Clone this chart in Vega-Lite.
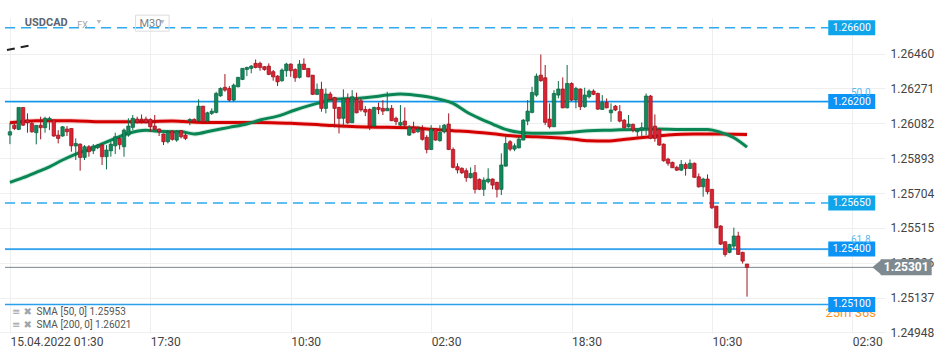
{
  "$schema": "https://vega.github.io/schema/vega-lite/v6.json",
  "width": 885,
  "height": 315,
  "autosize": {"type": "none"},
  "padding": {"left": 0, "top": 18, "right": 65, "bottom": 25},
  "background": "white",
  "config": {"view": {"stroke": null}, "font": "Roboto", "axis": {"labelOverlap": false, "labelFlush": false, "labelBound": false}},
  "datasets": {
    "candles": [
      {"t":0,"o":1.26018,"h":1.26085,"l":1.25969,"c":1.26036},
      {"t":1,"o":1.26072,"h":1.26081,"l":1.26045,"c":1.26054},
      {"t":2,"o":1.26049,"h":1.26168,"l":1.26045,"c":1.26168},
      {"t":3,"o":1.26168,"h":1.26168,"l":1.26067,"c":1.26072},
      {"t":4,"o":1.26100,"h":1.26136,"l":1.26031,"c":1.26085},
      {"t":5,"o":1.26081,"h":1.26091,"l":1.26031,"c":1.26036},
      {"t":6,"o":1.26031,"h":1.26072,"l":1.25968,"c":1.26071},
      {"t":7,"o":1.26072,"h":1.26118,"l":1.25995,"c":1.26058},
      {"t":8,"o":1.26058,"h":1.26118,"l":1.26031,"c":1.26109},
      {"t":9,"o":1.26100,"h":1.26118,"l":1.26045,"c":1.26109},
      {"t":10,"o":1.26100,"h":1.26100,"l":1.26009,"c":1.26013},
      {"t":11,"o":1.26018,"h":1.26045,"l":1.25973,"c":1.26000},
      {"t":12,"o":1.26013,"h":1.26067,"l":1.26009,"c":1.26063},
      {"t":13,"o":1.26051,"h":1.26067,"l":1.26013,"c":1.26036},
      {"t":14,"o":1.26054,"h":1.26054,"l":1.25928,"c":1.25960},
      {"t":15,"o":1.25959,"h":1.26000,"l":1.25883,"c":1.25973},
      {"t":16,"o":1.25969,"h":1.25973,"l":1.25825,"c":1.25897},
      {"t":17,"o":1.25897,"h":1.25964,"l":1.25883,"c":1.25955},
      {"t":18,"o":1.25955,"h":1.25964,"l":1.25901,"c":1.25928},
      {"t":19,"o":1.25933,"h":1.25969,"l":1.25915,"c":1.25959},
      {"t":20,"o":1.25950,"h":1.25969,"l":1.25942,"c":1.25964},
      {"t":21,"o":1.25964,"h":1.25969,"l":1.25856,"c":1.25901},
      {"t":22,"o":1.25901,"h":1.25964,"l":1.25832,"c":1.25937},
      {"t":23,"o":1.25933,"h":1.25982,"l":1.25901,"c":1.25969},
      {"t":24,"o":1.25960,"h":1.26031,"l":1.25915,"c":1.26009},
      {"t":25,"o":1.26000,"h":1.26009,"l":1.25940,"c":1.25966},
      {"t":26,"o":1.25955,"h":1.26054,"l":1.25901,"c":1.26045},
      {"t":27,"o":1.26018,"h":1.26109,"l":1.26009,"c":1.26067},
      {"t":28,"o":1.26060,"h":1.26127,"l":1.26045,"c":1.26109},
      {"t":29,"o":1.26105,"h":1.26118,"l":1.26081,"c":1.26087},
      {"t":30,"o":1.26105,"h":1.26130,"l":1.26081,"c":1.26096},
      {"t":31,"o":1.26105,"h":1.26118,"l":1.26081,"c":1.26087},
      {"t":32,"o":1.26103,"h":1.26109,"l":1.26036,"c":1.26063},
      {"t":33,"o":1.26067,"h":1.26127,"l":1.26045,"c":1.26049},
      {"t":34,"o":1.26051,"h":1.26054,"l":1.26013,"c":1.26036},
      {"t":35,"o":1.26024,"h":1.26027,"l":1.25964,"c":1.25982},
      {"t":36,"o":1.25982,"h":1.26045,"l":1.25973,"c":1.26036},
      {"t":37,"o":1.26040,"h":1.26045,"l":1.25988,"c":1.25995},
      {"t":38,"o":1.25991,"h":1.26045,"l":1.25982,"c":1.26040},
      {"t":39,"o":1.26042,"h":1.26045,"l":1.26000,"c":1.26009},
      {"t":40,"o":1.26018,"h":1.26027,"l":1.25991,"c":1.26000},
      {"t":41,"o":1.26096,"h":1.26109,"l":1.26072,"c":1.26103},
      {"t":42,"o":1.26103,"h":1.26109,"l":1.26091,"c":1.26094},
      {"t":43,"o":1.26096,"h":1.26212,"l":1.26091,"c":1.26175},
      {"t":44,"o":1.26175,"h":1.26175,"l":1.26085,"c":1.26091},
      {"t":45,"o":1.26094,"h":1.26145,"l":1.26085,"c":1.26139},
      {"t":46,"o":1.26136,"h":1.26163,"l":1.26127,"c":1.26148},
      {"t":47,"o":1.26141,"h":1.26253,"l":1.26136,"c":1.26244},
      {"t":48,"o":1.26231,"h":1.26277,"l":1.26226,"c":1.26271},
      {"t":49,"o":1.26277,"h":1.26349,"l":1.26253,"c":1.26262},
      {"t":50,"o":1.26271,"h":1.26284,"l":1.26199,"c":1.26208},
      {"t":51,"o":1.26208,"h":1.26298,"l":1.26199,"c":1.26289},
      {"t":52,"o":1.26280,"h":1.26334,"l":1.26277,"c":1.26331},
      {"t":53,"o":1.26320,"h":1.26380,"l":1.26316,"c":1.26380},
      {"t":54,"o":1.26374,"h":1.26389,"l":1.26338,"c":1.26385},
      {"t":55,"o":1.26380,"h":1.26398,"l":1.26353,"c":1.26392},
      {"t":56,"o":1.26407,"h":1.26428,"l":1.26380,"c":1.26385},
      {"t":57,"o":1.26407,"h":1.26416,"l":1.26367,"c":1.26385},
      {"t":58,"o":1.26389,"h":1.26392,"l":1.26367,"c":1.26374},
      {"t":59,"o":1.26392,"h":1.26407,"l":1.26343,"c":1.26347},
      {"t":60,"o":1.26362,"h":1.26371,"l":1.26313,"c":1.26334},
      {"t":61,"o":1.26338,"h":1.26343,"l":1.26284,"c":1.26307},
      {"t":62,"o":1.26313,"h":1.26380,"l":1.26307,"c":1.26371},
      {"t":63,"o":1.26367,"h":1.26410,"l":1.26334,"c":1.26403},
      {"t":64,"o":1.26403,"h":1.26407,"l":1.26334,"c":1.26367},
      {"t":65,"o":1.26374,"h":1.26380,"l":1.26307,"c":1.26329},
      {"t":66,"o":1.26331,"h":1.26425,"l":1.26325,"c":1.26403},
      {"t":67,"o":1.26403,"h":1.26434,"l":1.26371,"c":1.26374},
      {"t":68,"o":1.26380,"h":1.26380,"l":1.26331,"c":1.26334},
      {"t":69,"o":1.26343,"h":1.26343,"l":1.26235,"c":1.26239},
      {"t":70,"o":1.26239,"h":1.26298,"l":1.26235,"c":1.26266},
      {"t":71,"o":1.26266,"h":1.26307,"l":1.26145,"c":1.26163},
      {"t":72,"o":1.26163,"h":1.26271,"l":1.26136,"c":1.26241},
      {"t":73,"o":1.26241,"h":1.26253,"l":1.26208,"c":1.26212},
      {"t":74,"o":1.26222,"h":1.26226,"l":1.26060,"c":1.26163},
      {"t":75,"o":1.26168,"h":1.26172,"l":1.26027,"c":1.26109},
      {"t":76,"o":1.26109,"h":1.26266,"l":1.26060,"c":1.26217},
      {"t":77,"o":1.26217,"h":1.26244,"l":1.26078,"c":1.26085},
      {"t":78,"o":1.26085,"h":1.26262,"l":1.26085,"c":1.26226},
      {"t":79,"o":1.26212,"h":1.26248,"l":1.26136,"c":1.26139},
      {"t":80,"o":1.26204,"h":1.26217,"l":1.26145,"c":1.26154},
      {"t":81,"o":1.26157,"h":1.26175,"l":1.26121,"c":1.26143},
      {"t":82,"o":1.26157,"h":1.26163,"l":1.26045,"c":1.26067},
      {"t":83,"o":1.26067,"h":1.26172,"l":1.26063,"c":1.26168},
      {"t":84,"o":1.26168,"h":1.26194,"l":1.26132,"c":1.26157},
      {"t":85,"o":1.26163,"h":1.26208,"l":1.26127,"c":1.26148},
      {"t":86,"o":1.26150,"h":1.26253,"l":1.26150,"c":1.26163},
      {"t":87,"o":1.26163,"h":1.26181,"l":1.26094,"c":1.26096},
      {"t":88,"o":1.26109,"h":1.26118,"l":1.26072,"c":1.26091},
      {"t":89,"o":1.26072,"h":1.26181,"l":1.26067,"c":1.26087},
      {"t":90,"o":1.26094,"h":1.26168,"l":1.26054,"c":1.26072},
      {"t":91,"o":1.26018,"h":1.26072,"l":1.26013,"c":1.26060},
      {"t":92,"o":1.26060,"h":1.26091,"l":1.26027,"c":1.26031},
      {"t":93,"o":1.26036,"h":1.26067,"l":1.26031,"c":1.26051},
      {"t":94,"o":1.26045,"h":1.26072,"l":1.25988,"c":1.25995},
      {"t":95,"o":1.26006,"h":1.26018,"l":1.25919,"c":1.25940},
      {"t":96,"o":1.25940,"h":1.26072,"l":1.25937,"c":1.26051},
      {"t":97,"o":1.26051,"h":1.26054,"l":1.25988,"c":1.25991},
      {"t":98,"o":1.25988,"h":1.26072,"l":1.25982,"c":1.26033},
      {"t":99,"o":1.26036,"h":1.26078,"l":1.26027,"c":1.26072},
      {"t":100,"o":1.26078,"h":1.26136,"l":1.25937,"c":1.25940},
      {"t":101,"o":1.25940,"h":1.25951,"l":1.25838,"c":1.25843},
      {"t":102,"o":1.25847,"h":1.25865,"l":1.25810,"c":1.25829},
      {"t":103,"o":1.25838,"h":1.25843,"l":1.25807,"c":1.25814},
      {"t":104,"o":1.25825,"h":1.25838,"l":1.25765,"c":1.25787},
      {"t":105,"o":1.25787,"h":1.25843,"l":1.25783,"c":1.25810},
      {"t":106,"o":1.25814,"h":1.25856,"l":1.25702,"c":1.25724},
      {"t":107,"o":1.25778,"h":1.25783,"l":1.25720,"c":1.25724},
      {"t":108,"o":1.25724,"h":1.25789,"l":1.25688,"c":1.25774},
      {"t":109,"o":1.25765,"h":1.25838,"l":1.25756,"c":1.25780},
      {"t":110,"o":1.25780,"h":1.25783,"l":1.25724,"c":1.25747},
      {"t":111,"o":1.25762,"h":1.25765,"l":1.25680,"c":1.25724},
      {"t":112,"o":1.25724,"h":1.25919,"l":1.25693,"c":1.25856},
      {"t":113,"o":1.25850,"h":1.26018,"l":1.25847,"c":1.25973},
      {"t":114,"o":1.25982,"h":1.25991,"l":1.25931,"c":1.25942},
      {"t":115,"o":1.25942,"h":1.25973,"l":1.25931,"c":1.25960},
      {"t":116,"o":1.25949,"h":1.26009,"l":1.25946,"c":1.25996},
      {"t":117,"o":1.25991,"h":1.26105,"l":1.25991,"c":1.26099},
      {"t":118,"o":1.26094,"h":1.26208,"l":1.26072,"c":1.26148},
      {"t":119,"o":1.26141,"h":1.26280,"l":1.26136,"c":1.26249},
      {"t":120,"o":1.26235,"h":1.26352,"l":1.26226,"c":1.26338},
      {"t":121,"o":1.26343,"h":1.26455,"l":1.26307,"c":1.26313},
      {"t":122,"o":1.26329,"h":1.26398,"l":1.26072,"c":1.26087},
      {"t":123,"o":1.26105,"h":1.26190,"l":1.26054,"c":1.26063},
      {"t":124,"o":1.26063,"h":1.26262,"l":1.26063,"c":1.26244},
      {"t":125,"o":1.26235,"h":1.26311,"l":1.26217,"c":1.26268},
      {"t":126,"o":1.26268,"h":1.26331,"l":1.26163,"c":1.26166},
      {"t":127,"o":1.26166,"h":1.26398,"l":1.26163,"c":1.26298},
      {"t":128,"o":1.26298,"h":1.26304,"l":1.26202,"c":1.26208},
      {"t":129,"o":1.26208,"h":1.26280,"l":1.26163,"c":1.26271},
      {"t":130,"o":1.26268,"h":1.26271,"l":1.26154,"c":1.26172},
      {"t":131,"o":1.26172,"h":1.26275,"l":1.26166,"c":1.26235},
      {"t":132,"o":1.26226,"h":1.26266,"l":1.26217,"c":1.26257},
      {"t":133,"o":1.26257,"h":1.26266,"l":1.26235,"c":1.26239},
      {"t":134,"o":1.26244,"h":1.26248,"l":1.26154,"c":1.26159},
      {"t":135,"o":1.26157,"h":1.26235,"l":1.26154,"c":1.26195},
      {"t":136,"o":1.26195,"h":1.26217,"l":1.26163,"c":1.26166},
      {"t":137,"o":1.26139,"h":1.26190,"l":1.26090,"c":1.26154},
      {"t":138,"o":1.26175,"h":1.26181,"l":1.26148,"c":1.26154},
      {"t":139,"o":1.26145,"h":1.26181,"l":1.26087,"c":1.26094},
      {"t":140,"o":1.26099,"h":1.26105,"l":1.26054,"c":1.26058},
      {"t":141,"o":1.26063,"h":1.26127,"l":1.26058,"c":1.26078},
      {"t":142,"o":1.26076,"h":1.26081,"l":1.26033,"c":1.26045},
      {"t":143,"o":1.26036,"h":1.26045,"l":1.26009,"c":1.26045},
      {"t":144,"o":1.26045,"h":1.26087,"l":1.26009,"c":1.26058},
      {"t":145,"o":1.26054,"h":1.26244,"l":1.26018,"c":1.26230},
      {"t":146,"o":1.26230,"h":1.26235,"l":1.25996,"c":1.26000},
      {"t":147,"o":1.26067,"h":1.26130,"l":1.25982,"c":1.26000},
      {"t":148,"o":1.26049,"h":1.26054,"l":1.25960,"c":1.25964},
      {"t":149,"o":1.25969,"h":1.25973,"l":1.25874,"c":1.25879},
      {"t":150,"o":1.25888,"h":1.25895,"l":1.25852,"c":1.25865},
      {"t":151,"o":1.25870,"h":1.25874,"l":1.25841,"c":1.25841},
      {"t":152,"o":1.25843,"h":1.25852,"l":1.25823,"c":1.25828},
      {"t":153,"o":1.25828,"h":1.25883,"l":1.25823,"c":1.25859},
      {"t":154,"o":1.25859,"h":1.25870,"l":1.25798,"c":1.25837},
      {"t":155,"o":1.25837,"h":1.25886,"l":1.25834,"c":1.25865},
      {"t":156,"o":1.25865,"h":1.25870,"l":1.25787,"c":1.25789},
      {"t":157,"o":1.25792,"h":1.25810,"l":1.25733,"c":1.25738},
      {"t":158,"o":1.25738,"h":1.25787,"l":1.25684,"c":1.25780},
      {"t":159,"o":1.25780,"h":1.25805,"l":1.25697,"c":1.25711},
      {"t":160,"o":1.25724,"h":1.25724,"l":1.25617,"c":1.25624},
      {"t":161,"o":1.25633,"h":1.25633,"l":1.25512,"c":1.25516},
      {"t":162,"o":1.25525,"h":1.25530,"l":1.25422,"c":1.25427},
      {"t":163,"o":1.25440,"h":1.25440,"l":1.25359,"c":1.25371},
      {"t":164,"o":1.25382,"h":1.25429,"l":1.25377,"c":1.25425},
      {"t":165,"o":1.25416,"h":1.25516,"l":1.25400,"c":1.25471},
      {"t":166,"o":1.25471,"h":1.25494,"l":1.25368,"c":1.25371},
      {"t":167,"o":1.25382,"h":1.25386,"l":1.25322,"c":1.25335},
      {"t":168,"o":1.25319,"h":1.25319,"l":1.25142,"c":1.25301}
    ],
    "sma50": [
      {"t":0,"v":1.25762},{"t":3,"v":1.25787},{"t":6,"v":1.25816},{"t":9,"v":1.25846},
      {"t":12,"v":1.25883},{"t":15,"v":1.25915},{"t":18,"v":1.25941},{"t":21,"v":1.25970},
      {"t":24,"v":1.26000},{"t":27,"v":1.26028},{"t":31,"v":1.26045},{"t":33,"v":1.26040},
      {"t":37,"v":1.26036},{"t":39,"v":1.26036},{"t":42,"v":1.26024},{"t":46,"v":1.26042},
      {"t":50,"v":1.26060},{"t":54,"v":1.26078},{"t":57,"v":1.26100},{"t":61,"v":1.26121},
      {"t":65,"v":1.26154},{"t":70,"v":1.26190},{"t":74,"v":1.26212},{"t":79,"v":1.26217},
      {"t":83,"v":1.26226},{"t":86,"v":1.26235},{"t":89,"v":1.26241},{"t":94,"v":1.26230},
      {"t":98,"v":1.26212},{"t":101,"v":1.26190},{"t":104,"v":1.26145},{"t":107,"v":1.26109},
      {"t":110,"v":1.26078},{"t":113,"v":1.26049},{"t":116,"v":1.26033},{"t":119,"v":1.26028},
      {"t":123,"v":1.26028},{"t":128,"v":1.26033},{"t":132,"v":1.26042},{"t":137,"v":1.26045},
      {"t":143,"v":1.26049},{"t":147,"v":1.26051},{"t":153,"v":1.26049},{"t":159,"v":1.26049},
      {"t":162,"v":1.26033},{"t":165,"v":1.26004},{"t":168,"v":1.25953}
    ],
    "sma200": [
      {"t":0,"v":1.26085},{"t":6,"v":1.26096},{"t":14,"v":1.26096},{"t":21,"v":1.26090},
      {"t":29,"v":1.26090},{"t":37,"v":1.26094},{"t":44,"v":1.26087},{"t":51,"v":1.26087},
      {"t":57,"v":1.26087},{"t":64,"v":1.26082},{"t":71,"v":1.26073},{"t":79,"v":1.26063},
      {"t":86,"v":1.26060},{"t":92,"v":1.26058},{"t":95,"v":1.26051},{"t":101,"v":1.26042},
      {"t":109,"v":1.26028},{"t":115,"v":1.26013},{"t":120,"v":1.26009},{"t":128,"v":1.25997},
      {"t":132,"v":1.25987},{"t":136,"v":1.25986},{"t":141,"v":1.25997},{"t":146,"v":1.26009},
      {"t":150,"v":1.26018},{"t":156,"v":1.26024},{"t":162,"v":1.26024},{"t":168,"v":1.26021}
    ],
    "levels": [
      {"p":1.26600,"k":"alert"},
      {"p":1.26200,"k":"fib"},
      {"p":1.25650,"k":"alert"},
      {"p":1.25400,"k":"fib"},
      {"p":1.25100,"k":"line"}
    ],
    "trend": [
      {"t":-0.68,"v":1.26479},
      {"t":4.96,"v":1.26506}
    ]
  },
  "layer": [
    {
      "data": {"name": "levels"},
      "transform": [{"filter": "datum.k == 'alert'"}],
      "mark": {"type": "rule", "color": "#2aaaf0", "strokeWidth": 1.5, "strokeDash": [10, 6]},
      "encoding": {
        "x": {"datum": -1.12676, "type": "quantitative", "scale": {"domain": [-1.12676, 198.31], "nice": false, "zero": false},
          "axis": {"values": [0, 32, 64, 96, 128, 160, 192], "tickCount": 20, "labelExpr": "datum.value == 0 ? '15.04.2022  01:30' : datum.value == 32 ? '17:30' : datum.value == 64 ? '10:30' : datum.value == 96 ? '02:30' : datum.value == 128 ? '18:30' : datum.value == 160 ? '10:30' : '02:30'",
            "grid": true, "gridColor": "#efefef", "gridWidth": 1, "domain": false, "ticks": false, "labelAlign": "left", "labelBaseline": "top", "labelPadding": 3, "labelFontSize": 12, "labelColor": "#444444", "labelFont": "Roboto", "title": null, "labelFlush": false, "labelOverlap": false}},
        "x2": {"datum": 186.6},
        "y": {"field": "p", "type": "quantitative", "scale": {"domain": [1.24945, 1.26653], "nice": false, "zero": false},
          "axis": {"orient": "right", "values": [1.26460, 1.26271, 1.26082, 1.25893, 1.25704, 1.25515, 1.25326, 1.25137, 1.24948], "tickCount": 20, "format": ".5f",
            "grid": true, "gridColor": "#efefef", "gridWidth": 1, "domain": false, "ticks": false, "labelAlign": "left", "labelBaseline": "middle", "labelPadding": 5, "labelFontSize": 12, "labelColor": "#444444", "labelFont": "Roboto", "title": null, "labelFlush": false, "labelOverlap": false, "labelBound": false}}
      }
    },
    {
      "data": {"name": "levels"},
      "transform": [{"filter": "datum.k == 'fib'"}],
      "mark": {"type": "rule", "color": "#a6dbf8", "strokeWidth": 2.4},
      "encoding": {"x": {"datum": -1.12676, "type": "quantitative"}, "x2": {"datum": 186.6}, "y": {"field": "p", "type": "quantitative"}}
    },
    {
      "data": {"name": "levels"},
      "transform": [{"filter": "datum.k == 'fib'"}],
      "mark": {"type": "rule", "color": "#1592ea", "strokeWidth": 1.3},
      "encoding": {"x": {"datum": -1.12676, "type": "quantitative"}, "x2": {"datum": 186.6}, "y": {"field": "p", "type": "quantitative"}}
    },
    {
      "data": {"name": "levels"},
      "transform": [{"filter": "datum.k == 'line'"}],
      "mark": {"type": "rule", "color": "#2aa0ea", "strokeWidth": 1.5},
      "encoding": {"x": {"datum": -1.12676, "type": "quantitative"}, "x2": {"datum": 186.6}, "y": {"field": "p", "type": "quantitative"}}
    },
    {
      "data": {"values": [{"p": 1.25301}]},
      "mark": {"type": "rule", "color": "#7b868c", "strokeWidth": 1},
      "encoding": {"x": {"datum": -1.12676, "type": "quantitative"}, "x2": {"datum": 198.31}, "y": {"field": "p", "type": "quantitative"}}
    },
    {
      "data": {"name": "trend"},
      "mark": {"type": "line", "color": "#222222", "strokeWidth": 2, "strokeDash": [8, 6]},
      "encoding": {"x": {"field": "t", "type": "quantitative"}, "y": {"field": "v", "type": "quantitative"}}
    },
    {
      "data": {"name": "sma200"},
      "mark": {"type": "line", "color": "#e04040", "strokeWidth": 5, "opacity": 0.22, "interpolate": "monotone"},
      "encoding": {"x": {"field": "t", "type": "quantitative"}, "y": {"field": "v", "type": "quantitative"}}
    },
    {
      "data": {"name": "sma200"},
      "mark": {"type": "line", "color": "#d40000", "strokeWidth": 3, "interpolate": "monotone"},
      "encoding": {"x": {"field": "t", "type": "quantitative"}, "y": {"field": "v", "type": "quantitative"}}
    },
    {
      "data": {"name": "sma50"},
      "mark": {"type": "line", "color": "#3aa577", "strokeWidth": 5, "opacity": 0.2, "interpolate": "monotone"},
      "encoding": {"x": {"field": "t", "type": "quantitative"}, "y": {"field": "v", "type": "quantitative"}}
    },
    {
      "data": {"name": "sma50"},
      "mark": {"type": "line", "color": "#0a8655", "strokeWidth": 3, "interpolate": "monotone"},
      "encoding": {"x": {"field": "t", "type": "quantitative"}, "y": {"field": "v", "type": "quantitative"}}
    },
    {
      "data": {"name": "candles"},
      "mark": {"type": "rule", "strokeWidth": 1},
      "encoding": {
        "x": {"field": "t", "type": "quantitative"},
        "y": {"field": "l", "type": "quantitative"},
        "y2": {"field": "h"},
        "color": {"condition": {"test": "datum.c >= datum.o", "value": "#0b6e45"}, "value": "#a3141f"}
      }
    },
    {
      "data": {"name": "candles"},
      "mark": {"type": "bar", "size": 3.4, "strokeWidth": 0.7},
      "encoding": {
        "x": {"field": "t", "type": "quantitative"},
        "y": {"field": "o", "type": "quantitative"},
        "y2": {"field": "c"},
        "fill": {"condition": {"test": "datum.c >= datum.o", "value": "#12895a"}, "value": "#dc2230"},
        "stroke": {"condition": {"test": "datum.c >= datum.o", "value": "#0a6240"}, "value": "#96121d"}
      }
    },
    {
      "data": {"values": [{"s": "25m 36s"}]},
      "mark": {"type": "text", "align": "right", "baseline": "middle", "fontSize": 13, "color": "#f7941d", "font": "Roboto"},
      "encoding": {"x": {"datum": 197.41, "type": "quantitative"}, "y": {"datum": 1.25054, "type": "quantitative"}, "text": {"field": "s"}}
    },
    {
      "data": {"name": "levels"},
      "mark": {"type": "tick", "orient": "horizontal", "size": 47, "thickness": 15, "opacity": 1},
      "encoding": {
        "x": {"datum": 191.87, "type": "quantitative"},
        "y": {"field": "p", "type": "quantitative"},
        "color": {"condition": {"test": "datum.k == 'alert'", "value": "#0ea5ea"}, "value": "#0b93f5"}
      }
    },
    {
      "data": {"name": "levels"},
      "mark": {"type": "text", "align": "center", "baseline": "middle", "fontSize": 10.5, "color": "white", "font": "Roboto"},
      "encoding": {
        "x": {"datum": 191.87, "type": "quantitative"},
        "y": {"field": "p", "type": "quantitative"},
        "text": {"field": "p", "type": "quantitative", "format": ".5f"}
      }
    },
    {
      "data": {"values": [{"s": "50.0", "p": 1.26249}, {"s": "61.8", "p": 1.25449}]},
      "mark": {"type": "text", "align": "left", "baseline": "middle", "fontSize": 10, "color": "#5ab8f0", "font": "Roboto"},
      "encoding": {"x": {"datum": 191.7, "type": "quantitative"}, "y": {"field": "p", "type": "quantitative"}, "text": {"field": "s"}}
    },
    {
      "data": {"values": [{"p": 1.25301}]},
      "mark": {"type": "tick", "orient": "horizontal", "size": 51, "thickness": 16, "color": "#7f8a90", "opacity": 1},
      "encoding": {"x": {"datum": 204.28, "type": "quantitative"}, "y": {"field": "p", "type": "quantitative"}}
    },
    {
      "data": {"values": [{"p": 1.25301}]},
      "mark": {"type": "point", "shape": "M -1.2 0 L 0 -1 L 0 1 Z", "size": 256, "filled": true, "color": "#7f8a90", "opacity": 1, "strokeWidth": 0},
      "encoding": {"x": {"datum": 198.76, "type": "quantitative"}, "y": {"field": "p", "type": "quantitative"}}
    },
    {
      "data": {"values": [{"p": 1.25301}]},
      "mark": {"type": "text", "align": "center", "baseline": "middle", "fontSize": 12, "fontWeight": "bold", "color": "white", "font": "Roboto"},
      "encoding": {"x": {"datum": 204.28, "type": "quantitative"}, "y": {"field": "p", "type": "quantitative"}, "text": {"field": "p", "type": "quantitative", "format": ".5f"}}
    },
    {
      "data": {"values": [{"s": "USDCAD"}]},
      "mark": {"type": "text", "align": "left", "baseline": "middle", "fontSize": 11, "fontWeight": "bold", "color": "#5d6570", "font": "Roboto"},
      "encoding": {"x": {"datum": 3.38, "type": "quantitative"}, "y": {"datum": 1.26625, "type": "quantitative"}, "text": {"field": "s"}}
    },
    {
      "data": {"values": [{"s": "FX"}]},
      "mark": {"type": "text", "align": "left", "baseline": "middle", "fontSize": 9, "color": "#a0a4a8", "font": "Roboto"},
      "encoding": {"x": {"datum": 15.32, "type": "quantitative"}, "y": {"datum": 1.26614, "type": "quantitative"}, "text": {"field": "s"}}
    },
    {
      "data": {"values": [{"t": 20.28}, {"t": 34.7}]},
      "mark": {"type": "point", "shape": "triangle-down", "size": 22, "filled": true, "color": "#b8bcc0", "opacity": 1},
      "encoding": {"x": {"field": "t", "type": "quantitative"}, "y": {"datum": 1.26631, "type": "quantitative"}}
    },
    {
      "data": {"values": [{"s": "M30"}]},
      "mark": {"type": "point", "shape": "M -2.1 -1 L 2.1 -1 L 2.1 1 L -2.1 1 Z", "size": 256, "filled": false, "color": "#dcdcdc", "strokeWidth": 1, "opacity": 1},
      "encoding": {"x": {"datum": 32.45, "type": "quantitative"}, "y": {"datum": 1.26625, "type": "quantitative"}}
    },
    {
      "data": {"values": [{"s": "M30"}]},
      "mark": {"type": "text", "align": "left", "baseline": "middle", "fontSize": 11, "color": "#7a7f85", "font": "Roboto"},
      "encoding": {"x": {"datum": 29.52, "type": "quantitative"}, "y": {"datum": 1.26620, "type": "quantitative"}, "text": {"field": "s"}}
    },
    {
      "data": {"values": [{"s": "≡ ✖", "p": 1.25059}, {"s": "≡ ✖", "p": 1.24988}]},
      "mark": {"type": "text", "align": "left", "baseline": "middle", "fontSize": 10, "color": "#a0a4a8", "font": "DejaVu Sans"},
      "encoding": {"x": {"datum": 0.45, "type": "quantitative"}, "y": {"field": "p", "type": "quantitative"}, "text": {"field": "s"}}
    },
    {
      "data": {"values": [{"s": "SMA [50,  0] 1.25953", "p": 1.25059}, {"s": "SMA [200,  0] 1.26021", "p": 1.24988}]},
      "mark": {"type": "text", "align": "left", "baseline": "middle", "fontSize": 10, "color": "#555555", "font": "Roboto"},
      "encoding": {"x": {"datum": 6.08, "type": "quantitative"}, "y": {"field": "p", "type": "quantitative"}, "text": {"field": "s"}}
    }
  ]
}
